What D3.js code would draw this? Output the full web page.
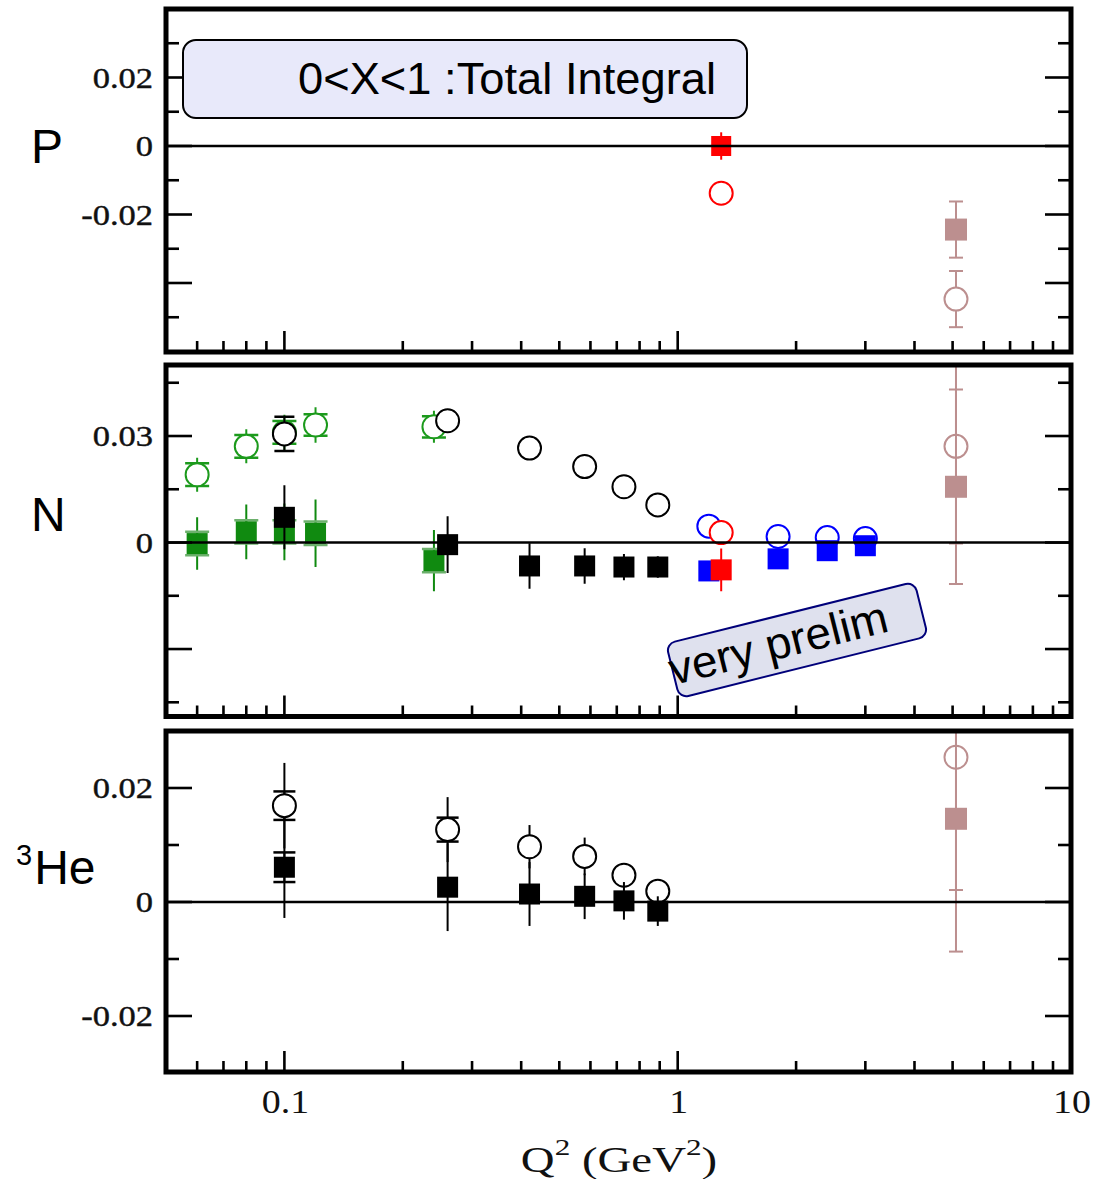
<!DOCTYPE html>
<html><head><meta charset="utf-8">
<script src="https://cdn.jsdelivr.net/npm/d3@7"></script>
<style>body{margin:0;background:#fff}svg{display:block}</style>
</head><body><svg id="c" width="1099" height="1179"></svg>
<script>
// ---------------- DATA ----------------
// x axis
const xTickMajor = [0.1, 1, 10];
const xTickLabels = ["0.1", "1", "10"];
const xTickMinor = [0.06,0.07,0.08,0.09,0.2,0.3,0.4,0.5,0.6,0.7,0.8,0.9,2,3,4,5,6,7,8,9];

// y tick labels per panel
const pTickValues = [0.02, 0, -0.02];
const pTickLabels = ["0.02", "0", "-0.02"];
const nTickValues = [0.03, 0];
const nTickLabels = ["0.03", "0"];
const heTickValues = [0.02, 0, -0.02];
const heTickLabels = ["0.02", "0", "-0.02"];

// Proton panel
const pRedQ2 = [1.29];
const pRedSquare = [0.0];
const pRedSquareErr = [0.004];
const pRedCircle = [-0.0138];
const pBrownQ2 = [5.1];
const pBrownSquare = [-0.0244];
const pBrownSquareErr = [0.0082];
const pBrownCircle = [-0.0447];
const pBrownCircleErr = [0.0082];

// Neutron panel
const nGreenQ2 = [0.06, 0.08, 0.1, 0.12, 0.24];
const nGreenCircle = [0.0191, 0.0271, 0.031, 0.0331, 0.0326];
const nGreenCircleStat = [0.0032, 0.0032, 0.0032, 0.003, 0.003];
const nGreenCircleTot = [0.0048, 0.0048, 0.005, 0.005, 0.0045];
const nGreenSquare = [-0.0003, 0.003, 0.003, 0.0026, -0.0051];
const nGreenSquareStat = [0.0033, 0.0033, 0.0033, 0.0033, 0.0033];
const nGreenSquareTot = [0.0074, 0.0077, 0.008, 0.0095, 0.0086];

const nBlackQ2 = [0.1, 0.26, 0.42, 0.58, 0.73, 0.89];
const nBlackCircle = [0.0306, 0.0343, 0.0266, 0.0214, 0.0157, 0.0106];
const nBlackCircleErr = [0.0048, 0, 0, 0, 0, 0];
const nBlackSquare = [0.0071, -0.0006, -0.0066, -0.0066, -0.0069, -0.0069];
const nBlackSquareErr = [0.009, 0.008, 0.0064, 0.005, 0.0037, 0.003];

const nBlueQ2 = [1.2, 1.8, 2.4, 3.0];
const nBlueCircle = [0.0046, 0.0017, 0.0014, 0.0011];
const nBlueSquare = [-0.008, -0.0046, -0.0023, -0.0009];

const nRedQ2 = [1.29];
const nRedCircle = [0.0028];
const nRedSquare = [-0.0077];
const nRedSquareErr = [0.006];

const nBrownQ2 = [5.1];
const nBrownCircle = [0.0271];
const nBrownCircleErr = [0.0274];
const nBrownSquare = [0.0157];
const nBrownSquareErr = [0.0274];

// 3He panel
const heBlackQ2 = [0.1, 0.26, 0.42, 0.58, 0.73, 0.89];
const heCircle = [0.0169, 0.0127, 0.0097, 0.008, 0.0047, 0.0019];
const heCircleStat = [0.0025, 0.0021, 0, 0, 0, 0];
const heCircleTot = [0.0075, 0.0057, 0.0038, 0.0033, 0, 0];
const heSquare = [0.0061, 0.0026, 0.0014, 0.001, 0.0002, -0.0016];
const heSquareStat = [0.0026, 0, 0, 0, 0, 0];
const heSquareTot = [0.0089, 0.0077, 0.0056, 0.004, 0.0033, 0.0026];
const heBrownQ2 = [5.1];
const heBrownCircle = [0.0254];
const heBrownCircleErr = [0.0233];
const heBrownSquare = [0.0146];
const heBrownSquareErr = [0.0233];

// ---------------- COLORS ----------------
const RED = "#ff0000", GREEN = "#108a10", GREEN_O = "#1c9a1c", BLUE = "#0000ff", BROWN = "#bc8f8f", BLACK = "#000";

// ---------------- LAYOUT ----------------
const svg = d3.select("#c");
const X0 = 166, X1 = 1071;
const x = d3.scaleLog().domain([0.05, 10]).range([X0, X1]);

const panels = [
  { id: "P", top: 9, bottom: 352, y: d3.scaleLinear().domain([-0.06, 0.04]).range([351.5, 9]),
    minor: d3.range(-0.05, 0.04, 0.01), major: d3.range(-0.04, 0.04, 0.02),
    tv: pTickValues, tl: pTickLabels },
  { id: "N", top: 365, bottom: 716.5, y: d3.scaleLinear().domain([-0.049, 0.05]).range([716.5, 365]),
    minor: d3.range(-0.045, 0.05, 0.015), major: [-0.03, 0, 0.03],
    tv: nTickValues, tl: nTickLabels },
  { id: "He", top: 731, bottom: 1072, y: d3.scaleLinear().domain([-0.03, 0.03]).range([1073, 731]),
    minor: d3.range(-0.02, 0.03, 0.01), major: [-0.02, 0, 0.02],
    tv: heTickValues, tl: heTickLabels }
];

panels.forEach((p, i) => {
  const g = svg.append("g");
  svg.append("clipPath").attr("id", "clip" + i).append("rect")
    .attr("x", X0).attr("y", p.top).attr("width", X1 - X0).attr("height", p.bottom - p.top);
  p.g = g;
  p.plot = g.append("g").attr("clip-path", `url(#clip${i})`);

  // zero line
  g.append("line").attr("x1", X0).attr("x2", X1).attr("y1", p.y(0)).attr("y2", p.y(0))
    .attr("stroke", "#000").attr("stroke-width", 2.5);

  // y ticks left & right
  const ticks = g.append("g").attr("stroke", "#000").attr("stroke-width", 2.6);
  p.minor.forEach(v => {
    const isMajor = p.major.some(m => Math.abs(m - v) < 1e-9);
    const len = isMajor ? 26 : 13;
    const yy = p.y(v);
    ticks.append("line").attr("x1", X0).attr("x2", X0 + len).attr("y1", yy).attr("y2", yy);
    ticks.append("line").attr("x1", X1).attr("x2", X1 - len).attr("y1", yy).attr("y2", yy);
  });
  // x ticks on bottom
  xTickMinor.forEach(v => {
    ticks.append("line").attr("x1", x(v)).attr("x2", x(v)).attr("y1", p.bottom).attr("y2", p.bottom - 11);
  });
  xTickMajor.forEach(v => {
    ticks.append("line").attr("x1", x(v)).attr("x2", x(v)).attr("y1", p.bottom).attr("y2", p.bottom - 21);
  });

  // y tick labels
  p.tv.forEach((v, k) => {
    g.append("text")
      .attr("transform", `translate(153,${p.y(v) + 10}) scale(1.15,1)`)
      .attr("text-anchor", "end")
      .attr("font-family", "'Liberation Serif','Times New Roman',serif")
      .attr("font-size", 30)
      .attr("fill", "#111")
      .attr("stroke", "#111").attr("stroke-width", 0.4)
      .text(p.tl[k]);
  });
});

// ---------- series drawing ----------
function drawSeries(p, q2, vals, o) {
  const g = p.plot.append("g");
  const y = p.y;
  const capW = o.capW || 22;
  q2.forEach((q, i) => {
    const cx = x(q), cy = y(vals[i]);
    const tot = o.tot ? o.tot[i] : 0;
    const stat = o.stat ? o.stat[i] : 0;
    const ew = o.errWidth || 2;
    if (tot > 0) {
      g.append("line").attr("x1", cx).attr("x2", cx).attr("y1", y(vals[i] + tot)).attr("y2", y(vals[i] - tot))
        .attr("stroke", o.color).attr("stroke-width", ew);
      if (o.totCaps) {
        [vals[i] + tot, vals[i] - tot].forEach(v => g.append("line")
          .attr("x1", cx - capW / 2).attr("x2", cx + capW / 2).attr("y1", y(v)).attr("y2", y(v))
          .attr("stroke", o.color).attr("stroke-width", ew));
      }
    }
    if (stat > 0) {
      g.append("line").attr("x1", cx).attr("x2", cx).attr("y1", y(vals[i] + stat)).attr("y2", y(vals[i] - stat))
        .attr("stroke", o.color).attr("stroke-width", ew);
      [vals[i] + stat, vals[i] - stat].forEach(v => g.append("line")
        .attr("x1", cx - capW / 2).attr("x2", cx + capW / 2).attr("y1", y(v)).attr("y2", y(v))
        .attr("stroke", o.capColor || o.color).attr("stroke-width", o.capWidth || 2.5));
    }
    if (o.shape === "sq") {
      const s = o.size || 20;
      g.append("rect").attr("x", cx - s / 2).attr("y", cy - s / 2).attr("width", s).attr("height", s)
        .attr("fill", o.color);
    } else {
      g.append("circle").attr("cx", cx).attr("cy", cy).attr("r", o.r || 11.5)
        .attr("fill", "#fff").attr("stroke", o.color).attr("stroke-width", 2);
    }
  });
}

const [PP, NP, HP] = panels;

// Proton
drawSeries(PP, pRedQ2, pRedCircle, { shape: "circ", color: RED });
drawSeries(PP, pRedQ2, pRedSquare, { shape: "sq", color: RED, tot: pRedSquareErr });
drawSeries(PP, pBrownQ2, pBrownCircle, { shape: "circ", color: BROWN, tot: pBrownCircleErr, totCaps: true, capW: 14 });
drawSeries(PP, pBrownQ2, pBrownSquare, { shape: "sq", color: BROWN, tot: pBrownSquareErr, totCaps: true, capW: 14, size: 22 });

// Neutron
drawSeries(NP, nGreenQ2, nGreenCircle, { shape: "circ", color: GREEN_O, stat: nGreenCircleStat, tot: nGreenCircleTot, capW: 24 });
drawSeries(NP, nGreenQ2, nGreenSquare, { shape: "sq", color: GREEN, stat: nGreenSquareStat, tot: nGreenSquareTot, capW: 24, capColor: "#6cb06c", size: 21 });
drawSeries(NP, nBlackQ2, nBlackCircle, { shape: "circ", color: BLACK, stat: nBlackCircleErr, capW: 20 });
drawSeries(NP, nBlackQ2, nBlackSquare, { shape: "sq", color: BLACK, tot: nBlackSquareErr, size: 21 });
drawSeries(NP, nBlueQ2, nBlueCircle, { shape: "circ", color: BLUE });
drawSeries(NP, nBlueQ2, nBlueSquare, { shape: "sq", color: BLUE, size: 21 });
drawSeries(NP, nRedQ2, nRedCircle, { shape: "circ", color: RED });
drawSeries(NP, nRedQ2, nRedSquare, { shape: "sq", color: RED, tot: nRedSquareErr, size: 21 });
drawSeries(NP, nBrownQ2, nBrownCircle, { shape: "circ", color: BROWN, tot: nBrownCircleErr, totCaps: true, capW: 14 });
drawSeries(NP, nBrownQ2, nBrownSquare, { shape: "sq", color: BROWN, tot: nBrownSquareErr, totCaps: true, capW: 14, size: 22 });

// 3He
drawSeries(HP, heBlackQ2, heCircle, { shape: "circ", color: BLACK, stat: heCircleStat, tot: heCircleTot, capW: 22 });
drawSeries(HP, heBlackQ2, heSquare, { shape: "sq", color: BLACK, stat: heSquareStat, tot: heSquareTot, capW: 22, size: 21 });
drawSeries(HP, heBrownQ2, heBrownCircle, { shape: "circ", color: BROWN, tot: heBrownCircleErr, totCaps: true, capW: 14 });
drawSeries(HP, heBrownQ2, heBrownSquare, { shape: "sq", color: BROWN, tot: heBrownSquareErr, totCaps: true, capW: 14, size: 22 });

// frames
panels.forEach(p => {
  p.g.append("rect").attr("x", X0).attr("y", p.top).attr("width", X1 - X0).attr("height", p.bottom - p.top)
    .attr("fill", "none").attr("stroke", "#000").attr("stroke-width", 5);
});

// x tick labels
xTickMajor.forEach((v, k) => {
  svg.append("text")
    .attr("transform", `translate(${x(v) + 1},1113) scale(1.15,1)`)
    .attr("text-anchor", "middle")
    .attr("font-family", "'Liberation Serif','Times New Roman',serif")
    .attr("font-size", 33)
    .attr("fill", "#111")
    .text(xTickLabels[k]);
});

// x axis title
const xt = svg.append("text")
  .attr("transform", "translate(619,1172) scale(1.3,1)")
  .attr("text-anchor", "middle")
  .attr("font-family", "'Liberation Serif','Times New Roman',serif")
  .attr("font-size", 36)
  .attr("fill", "#111");
xt.append("tspan").text("Q");
xt.append("tspan").attr("dy", -17).attr("font-size", 24).text("2");
xt.append("tspan").attr("dy", 17).text(" (GeV");
xt.append("tspan").attr("dy", -17).attr("font-size", 24).text("2");
xt.append("tspan").attr("dy", 17).text(")");

// panel labels
const sans = "'Liberation Sans',Arial,Helvetica,sans-serif";
svg.append("text").attr("x", 31).attr("y", 163).attr("font-family", sans).attr("font-size", 48).text("P");
svg.append("text").attr("x", 31).attr("y", 531).attr("font-family", sans).attr("font-size", 48).text("N");
const he = svg.append("text").attr("x", 16).attr("y", 884).attr("font-family", sans).attr("font-size", 48);
he.append("tspan").attr("font-size", 29).attr("dy", -19).text("3");
he.append("tspan").attr("dy", 19).attr("dx", 2).text("He");

// annotation box top
svg.append("rect").attr("x", 183).attr("y", 40).attr("width", 564).attr("height", 78).attr("rx", 13)
  .attr("fill", "#e8e9fa").attr("stroke", "#000").attr("stroke-width", 2);
svg.append("text").attr("x", 298).attr("y", 94).attr("font-family", sans).attr("font-size", 44).attr("fill", "#000")
  .attr("textLength", 418).attr("lengthAdjust", "spacingAndGlyphs")
  .text("0<X<1 :Total Integral");

// very prelim box
const vp = svg.append("g").attr("transform", "translate(797,640) rotate(-14)");
vp.append("rect").attr("x", -128).attr("y", -28).attr("width", 256).attr("height", 56).attr("rx", 9)
  .attr("fill", "#dfe1ee").attr("stroke", "#00007a").attr("stroke-width", 2);
vp.append("text").attr("x", -131).attr("y", 14).attr("font-family", sans).attr("font-size", 45).attr("fill", "#000")
  .attr("textLength", 224).attr("lengthAdjust", "spacingAndGlyphs")
  .text("very prelim");
</script></body></html>
